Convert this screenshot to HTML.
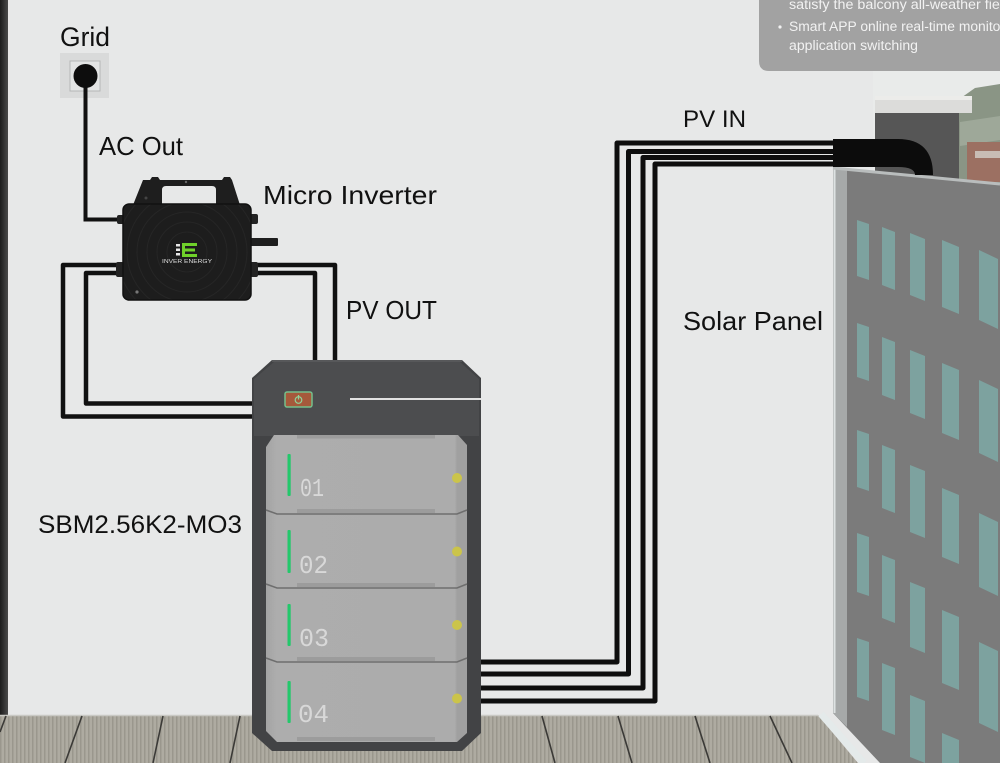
<!DOCTYPE html>
<html><head><meta charset="utf-8"><style>
html,body{margin:0;padding:0;background:#e7e8e8;}
svg{display:block;}
.lbl{font-family:"Liberation Sans",sans-serif;fill:#111;}
</style></head><body>
<svg width="1000" height="763" viewBox="0 0 1000 763" xmlns="http://www.w3.org/2000/svg">
<defs>
<pattern id="fl" width="4" height="10" patternUnits="userSpaceOnUse">
<rect width="4" height="10" fill="#aeaba1"/><rect width="1.5" height="10" fill="#9a978d"/>
</pattern>
<linearGradient id="ls" x1="0" x2="1"><stop offset="0" stop-color="#1c1c1c"/><stop offset="1" stop-color="#4a4a4a"/></linearGradient>
<linearGradient id="mod" x1="0" x2="1"><stop offset="0" stop-color="#a3a3a3"/><stop offset="0.05" stop-color="#adadad"/><stop offset="0.94" stop-color="#acacac"/><stop offset="0.95" stop-color="#a0a0a0"/></linearGradient>
<clipPath id="invc"><rect x="123" y="204" width="128" height="96" rx="6"/></clipPath>
</defs>
<!-- wall -->
<rect x="0" y="0" width="1000" height="763" fill="#e7e8e8"/>
<rect x="0" y="0" width="8" height="718" fill="url(#ls)"/>
<!-- background scene top-right -->
<rect x="873" y="60" width="127" height="125" fill="#e9ebea"/>
<polygon points="958,100 975,88 1000,84 1000,185 958,185" fill="#8a9585"/>
<polygon points="960,122 1000,116 1000,140 960,146" fill="#9ea899"/>
<rect x="967" y="142" width="33" height="40" fill="#9c7062"/>
<rect x="975" y="151" width="25" height="7" fill="#c8bcb4"/>
<rect x="875" y="96" width="97" height="17" fill="#dcdcda"/>
<rect x="875" y="96" width="97" height="4" fill="#ececea"/>
<rect x="875" y="113" width="84" height="70" fill="#565656"/>
<!-- glass panel -->
<polygon points="833,167 1000,183 1000,763 880,763 833,713" fill="#7b7b7b"/>
<polygon points="833,167 847,168 847,727 833,713" fill="#a6a9a9"/>
<line x1="834.5" y1="168" x2="834.5" y2="713" stroke="#dde2e2" stroke-width="2"/>
<line x1="833" y1="168" x2="1000" y2="184" stroke="#b9bdbd" stroke-width="3"/>
<g fill="#7da29f">
<polygon points="857,220 869,224 869,280 857,276"/>
<polygon points="857,323 869,327 869,381 857,377"/>
<polygon points="857,430 869,434 869,491 857,487"/>
<polygon points="857,533 869,537 869,596 857,592"/>
<polygon points="857,638 869,642 869,701 857,697"/>
<polygon points="882,227 895,232 895,290 882,285"/>
<polygon points="882,337 895,342 895,400 882,395"/>
<polygon points="882,445 895,450 895,513 882,508"/>
<polygon points="882,555 895,560 895,623 882,618"/>
<polygon points="882,663 895,668 895,735 882,730"/>
<polygon points="910,233 925,239 925,301 910,295"/>
<polygon points="910,350 925,356 925,419 910,413"/>
<polygon points="910,465 925,471 925,538 910,532"/>
<polygon points="910,582 925,588 925,653 910,647"/>
<polygon points="910,695 925,701 925,763 910,757"/>
<polygon points="942,240 959,247 959,314 942,307"/>
<polygon points="942,363 959,370 959,440 942,433"/>
<polygon points="942,488 959,495 959,564 942,557"/>
<polygon points="942,610 959,617 959,690 942,683"/>
<polygon points="942,733 959,740 959,763 942,763"/>
<polygon points="979,250 998,259 998,329 979,320"/>
<polygon points="979,380 998,389 998,462 979,453"/>
<polygon points="979,513 998,522 998,596 979,587"/>
<polygon points="979,642 998,651 998,732 979,723"/>
</g>
<!-- floor -->
<polygon points="0,715 818,715 858,763 0,763" fill="url(#fl)"/>
<line x1="0" y1="715.5" x2="818" y2="715.5" stroke="#c9c9c4" stroke-width="1.5"/>
<line x1="821" y1="714" x2="864" y2="763" stroke="#e4eaea" stroke-width="7"/>
<g stroke="#3b3a37" stroke-width="1.6">
<line x1="6" y1="716" x2="0" y2="732"/>
<line x1="82" y1="716" x2="65" y2="763"/>
<line x1="163" y1="716" x2="153" y2="763"/>
<line x1="240" y1="716" x2="230" y2="763"/>
<line x1="542" y1="716" x2="555" y2="763"/>
<line x1="618" y1="716" x2="632" y2="763"/>
<line x1="695" y1="716" x2="710" y2="763"/>
<line x1="770" y1="716" x2="792" y2="763"/>
</g>
<!-- text box top right -->
<path d="M759,0 H1000 V71 H769 Q759,71 759,61 Z" fill="#a2a2a2"/>
<g font-family="Liberation Sans, sans-serif" font-size="13.5" fill="#f2f2f2">
<text x="789" y="9" textLength="222" lengthAdjust="spacingAndGlyphs">satisfy the balcony all-weather field</text>
<circle cx="780" cy="27" r="1.6"/>
<text x="789" y="31" textLength="216" lengthAdjust="spacingAndGlyphs">Smart APP online real-time monitor</text>
<text x="789" y="50" textLength="129" lengthAdjust="spacingAndGlyphs">application switching</text>
</g>
<!-- AC cable & socket -->
<rect x="60" y="53" width="49" height="45" fill="#d9dada"/>
<rect x="70" y="61" width="30" height="30" fill="#e3e4e4" stroke="#b5b7b7" stroke-width="1"/>
<path d="M85.5,78 V219.5 H123" fill="none" stroke="#111" stroke-width="4"/>
<circle cx="85.5" cy="76" r="12" fill="#0d0d0d"/>
<!-- PV OUT cables -->
<g fill="none" stroke="#111" stroke-width="4.5" stroke-linejoin="round">
<path d="M123,265 H63 V416.5 H256"/>
<path d="M123,273 H86 V403.5 H256"/>
<path d="M250,265 H335 V362"/>
<path d="M250,273 H315 V362"/>
</g>
<!-- PV IN cables -->
<g fill="none" stroke="#0e0e0e" stroke-width="5" stroke-linejoin="round">
<path d="M478,662 H617 V143 H840"/>
<path d="M478,674 H628.5 V151.5 H840"/>
<path d="M478,688 H643 V157.5 H840"/>
<path d="M478,701 H655 V164 H840"/>
</g>
<path d="M833,139 L898,139 Q933,139 933,175 L915,175 Q915,167 898,167 L833,167 Z" fill="#0c0c0c"/>
<!-- inverter -->
<path fill-rule="evenodd" fill="#1e1e1e" d="M133,205 L143,180 L150,180 L152,177 L158,177 L160,180 L222,180 L224,177 L230,177 L232,180 L240,205 Z M162,205 L162,190 Q162,186 166,186 L212,186 Q216,186 216,190 L216,205 Z"/>
<circle cx="146" cy="198" r="1.5" fill="#444"/>
<circle cx="186" cy="182" r="1.2" fill="#666"/>
<rect x="117" y="215" width="7" height="9" rx="2" fill="#222"/>
<rect x="116" y="262" width="8" height="15" rx="2" fill="#222"/>
<rect x="250" y="214" width="8" height="10" rx="2" fill="#222"/>
<rect x="250" y="238" width="28" height="8" rx="1" fill="#1e1e1e"/>
<rect x="250" y="262" width="8" height="15" rx="2" fill="#222"/>
<rect x="123" y="204" width="128" height="96" rx="6" fill="#1d1d1d"/>
<g fill="none" stroke="#262626" stroke-width="1" clip-path="url(#invc)">
<circle cx="187" cy="252" r="20"/><circle cx="187" cy="252" r="30"/><circle cx="187" cy="252" r="40"/><circle cx="187" cy="252" r="50"/><circle cx="187" cy="252" r="60"/><circle cx="187" cy="252" r="70"/>
</g>
<rect x="123" y="204" width="128" height="96" rx="6" fill="none" stroke="#111" stroke-width="1.5"/>
<g fill="#e8e8e8"><rect x="176" y="244" width="4" height="2.5"/><rect x="176" y="248.5" width="4" height="2.5"/><rect x="176" y="253" width="4" height="2.5"/></g>
<g fill="#6fd12a"><rect x="182" y="243" width="15" height="3"/><rect x="182" y="248.5" width="13" height="3"/><rect x="182" y="254" width="15" height="3"/><rect x="182" y="243" width="3" height="14"/></g>
<text x="187" y="263" font-family="Liberation Sans, sans-serif" font-size="5.5" fill="#ddd" text-anchor="middle" textLength="50" lengthAdjust="spacingAndGlyphs">INVER ENERGY</text>
<circle cx="137" cy="292" r="1.6" fill="#777"/>
<!-- battery -->
<polygon points="272,360 462,360 481,378 481,733 462,751 272,751 252,733 252,378" fill="#424345"/>
<polygon points="274,362 460,362 479,379 479,436 254,436 254,379" fill="#4c4d4f"/>
<line x1="272" y1="361" x2="462" y2="361" stroke="#5e5f61" stroke-width="1.5"/>
<rect x="285" y="392" width="27" height="15" rx="2" fill="#a5593b" stroke="#74c08c" stroke-width="1.5"/>
<circle cx="298.5" cy="400" r="3.3" fill="none" stroke="#8fd39a" stroke-width="1.2"/>
<line x1="298.5" y1="395" x2="298.5" y2="399.5" stroke="#8fd39a" stroke-width="1.2"/>
<line x1="350" y1="399" x2="481" y2="399" stroke="#e2e2e2" stroke-width="2"/>
<!-- modules -->
<polygon points="274,435 458,435 467,445 467,733 457,742 277,742 266,731 266,447" fill="url(#mod)"/>
<g fill="#9c9c9c"><rect x="297" y="435" width="138" height="3.5"/><rect x="297" y="509" width="138" height="4"/><rect x="297" y="583" width="138" height="4"/><rect x="297" y="657" width="138" height="4"/><rect x="297" y="737" width="138" height="4"/></g>
<g fill="none" stroke="#6e6e6e" stroke-width="1.5">
<polyline points="266,510 277,514 457,514 467,510"/>
<polyline points="266,584 277,588 457,588 467,584"/>
<polyline points="266,658 277,662 457,662 467,658"/>
</g>
<g fill="#23c86b">
<rect x="287.5" y="454" width="3.2" height="42" rx="1"/>
<rect x="287.5" y="530" width="3.2" height="43" rx="1"/>
<rect x="287.5" y="604" width="3.2" height="42" rx="1"/>
<rect x="287.5" y="681" width="3.2" height="42" rx="1"/>
</g>
<g font-family="Liberation Mono, DejaVu Sans Mono, monospace" font-size="26" fill="#d8d8d8">
<text x="300" y="496" textLength="24" lengthAdjust="spacingAndGlyphs">01</text>
<text x="299" y="573" textLength="29" lengthAdjust="spacingAndGlyphs">02</text>
<text x="299" y="646" textLength="30" lengthAdjust="spacingAndGlyphs">03</text>
<text x="298" y="722" textLength="31" lengthAdjust="spacingAndGlyphs">04</text>
</g>
<g fill="#cbc44a">
<circle cx="457" cy="478" r="5"/><circle cx="457" cy="551.5" r="5"/><circle cx="457" cy="625" r="5"/><circle cx="457" cy="698.5" r="5"/>
</g>
<!-- labels -->
<text class="lbl" x="60" y="46" font-size="27" textLength="50" lengthAdjust="spacingAndGlyphs">Grid</text>
<text class="lbl" x="99" y="155" font-size="26" textLength="84" lengthAdjust="spacingAndGlyphs">AC Out</text>
<text class="lbl" x="263" y="204" font-size="26" textLength="174" lengthAdjust="spacingAndGlyphs">Micro Inverter</text>
<text class="lbl" x="346" y="319" font-size="26" textLength="91" lengthAdjust="spacingAndGlyphs">PV OUT</text>
<text class="lbl" x="683" y="127" font-size="24" textLength="63" lengthAdjust="spacingAndGlyphs">PV IN</text>
<text class="lbl" x="683" y="330" font-size="26" textLength="140" lengthAdjust="spacingAndGlyphs">Solar Panel</text>
<text class="lbl" x="38" y="533" font-size="25" textLength="204" lengthAdjust="spacingAndGlyphs">SBM2.56K2-MO3</text>
</svg>
</body></html>
